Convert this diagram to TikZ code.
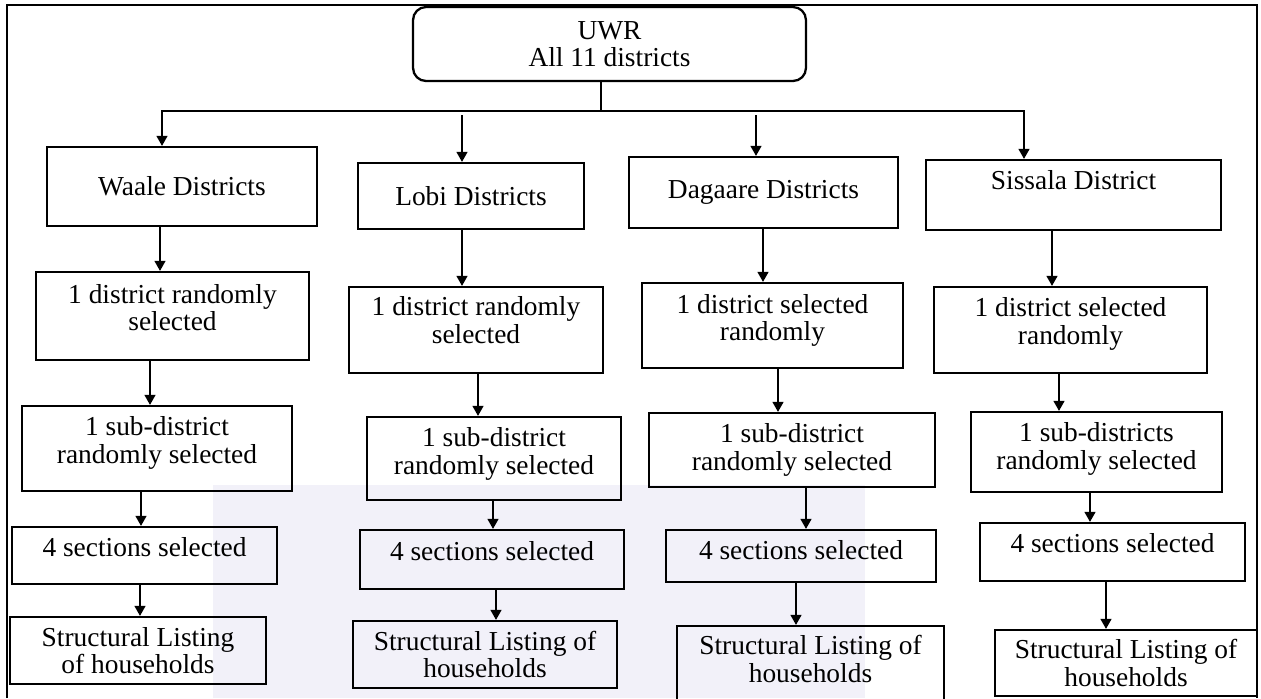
\documentclass[tikz,border=0pt]{standalone}
\usepackage{fontspec}
\setmainfont{Liberation Serif}
\usetikzlibrary{arrows.meta}
\definecolor{wmark}{RGB}{242,241,249}

\begin{document}
\begin{tikzpicture}[x=0.02cm,y=-0.02cm,
  box/.style={draw,line width=1.3pt,align=center,inner sep=0pt,font=\fontsize{15.6}{15.6}\selectfont},
  arr/.style={line width=0.7pt,-{Triangle[width=0.22cm,length=0.2cm]}}]
\useasboundingbox (0,0) rectangle (1261,698);
\fill[wmark] (213,485) rectangle (865,698);
\draw[line width=1pt] (7,698) -- (7,5) -- (1257,5) -- (1257,698);

\node[box,rounded corners=0.26cm,minimum width=7.86cm,minimum height=1.48cm] (uwr) at (609.5,44) {UWR\\All 11 districts};

\node[box,minimum width=5.4cm,minimum height=1.58cm] (waale) at (182,186.5) {Waale Districts};
\node[box,minimum width=4.52cm,minimum height=1.32cm] (lobi) at (471,196) {Lobi Districts};
\node[box,minimum width=5.38cm,minimum height=1.42cm] (dagaare) at (763.5,192.5) {Dagaare Districts};
\node[box,minimum width=5.9cm,minimum height=1.4cm,text depth=0.62cm] (sissala) at (1073.5,195) {Sissala District};

\node[box,minimum width=5.46cm,minimum height=1.76cm,text depth=0.34cm] (w1) at (172.5,316) {1 district randomly\\selected};
\node[box,minimum width=5.08cm,minimum height=1.72cm,text depth=0.4cm] (l1) at (476,330) {1 district randomly\\selected};
\node[box,minimum width=5.22cm,minimum height=1.7cm,text depth=0.32cm] (d1) at (772.5,325.5) {1 district selected\\randomly};
\node[box,minimum width=5.46cm,minimum height=1.72cm,text depth=0.36cm] (s1) at (1070.5,330) {1 district selected\\randomly};

\node[box,minimum width=5.4cm,minimum height=1.7cm,text depth=0.34cm] (w2) at (157,448.5) {1 sub-district\\randomly selected};
\node[box,minimum width=5.08cm,minimum height=1.66cm,text depth=0.3cm] (l2) at (494,458.5) {1 sub-district\\randomly selected};
\node[box,minimum width=5.72cm,minimum height=1.48cm] (d2) at (792,450) {1 sub-district\\randomly selected};
\node[box,minimum width=5.02cm,minimum height=1.6cm,text depth=0.24cm] (s2) at (1096.5,452) {1 sub-districts\\randomly selected};

\node[box,minimum width=5.3cm,minimum height=1.14cm,text depth=0.36cm] (w3) at (144.5,555.5) {4 sections selected};
\node[box,minimum width=5.28cm,minimum height=1.18cm,text depth=0.36cm] (l3) at (492,559.5) {4 sections selected};
\node[box,minimum width=5.4cm,minimum height=1.04cm,text depth=0.26cm] (d3) at (801,556) {4 sections selected};
\node[box,minimum width=5.3cm,minimum height=1.16cm,text depth=0.38cm] (s3) at (1112.5,552) {4 sections selected};

\node[box,minimum width=5.12cm,minimum height=1.34cm] (w4) at (138,650.5) {Structural Listing\\of households};
\node[box,minimum width=5.28cm,minimum height=1.34cm] (l4) at (485,654.5) {Structural Listing of\\households};
\node[box,minimum width=5.34cm,minimum height=1.52cm,text depth=0.2cm] (d4) at (810.5,664) {Structural Listing of\\households};
\node[box,minimum width=5.24cm,minimum height=1.32cm] (s4) at (1126,663) {Structural Listing of\\households};

\coordinate (hub) at (601,111);
\coordinate (lobitop) at (462,115);
\coordinate (dagtop) at (756,115);
\draw[line width=0.7pt] (uwr.south -| hub) -- (hub);
\draw[arr] (hub) -| (waale.north -| 162,0);
\draw[arr] (hub) -| (sissala.north -| 1024,0);
\draw[arr] (lobitop) -- (lobi.north -| lobitop);
\draw[arr] (dagtop) -- (dagaare.north -| dagtop);

\draw[arr] (waale.south -| 160,0) -- (w1.north -| 160,0);
\draw[arr] (lobi.south -| 462,0) -- (l1.north -| 462,0);
\draw[arr] (dagaare.south -| 763,0) -- (d1.north -| 763,0);
\draw[arr] (sissala.south -| 1052,0) -- (s1.north -| 1052,0);

\draw[arr] (w1.south -| 150,0) -- (w2.north -| 150,0);
\draw[arr] (l1.south -| 478,0) -- (l2.north -| 478,0);
\draw[arr] (d1.south -| 778,0) -- (d2.north -| 778,0);
\draw[arr] (s1.south -| 1059,0) -- (s2.north -| 1059,0);

\draw[arr] (w2.south -| 141,0) -- (w3.north -| 141,0);
\draw[arr] (l2.south -| 493,0) -- (l3.north -| 493,0);
\draw[arr] (d2.south -| 806,0) -- (d3.north -| 806,0);
\draw[arr] (s2.south -| 1090,0) -- (s3.north -| 1090,0);

\draw[arr] (w3.south -| 140,0) -- (w4.north -| 140,0);
\draw[arr] (l3.south -| 496,0) -- (l4.north -| 496,0);
\draw[arr] (d3.south -| 796,0) -- (d4.north -| 796,0);
\draw[arr] (s3.south -| 1106,0) -- (s4.north -| 1106,0);
\end{tikzpicture}
\end{document}
